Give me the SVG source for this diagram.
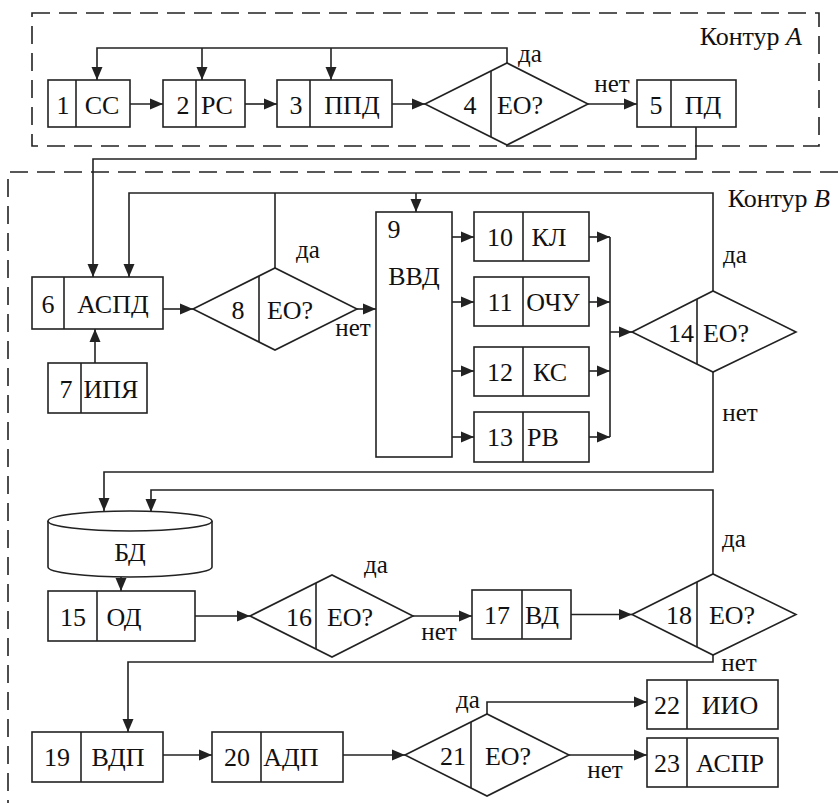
<svg xmlns="http://www.w3.org/2000/svg" width="838" height="803" viewBox="0 0 838 803" font-family="Liberation Serif, Times New Roman, serif">
<style>
.s{fill:#fff;stroke:#222;stroke-width:1.6}
.d{fill:none;stroke:#222;stroke-width:1.6}
.c{fill:none;stroke:#222;stroke-width:1.6}
.k{fill:none;stroke:#222;stroke-width:1.6;stroke-dasharray:18 9}
text{font-family:"Liberation Serif","Times New Roman",serif;font-size:26px;fill:#111;text-anchor:middle}
.l{font-size:25px}
</style>
<defs>
<marker id="a" markerUnits="userSpaceOnUse" markerWidth="14" markerHeight="12" refX="13" refY="6" orient="auto"><path d="M0,0.5 L13,6 L0,11.5 Z" fill="#222"/></marker>
</defs>
<rect class="k" x="32" y="13" width="787" height="133"/>
<path class="k" d="M838,172 H8 V803"/>
<text x="802" y="45" style="text-anchor:end">Контур <tspan font-style="italic">A</tspan></text>
<text x="830" y="207" style="text-anchor:end">Контур <tspan font-style="italic">B</tspan></text>

<g id="connectors">
<path class="c" d="M130,104 H163" marker-end="url(#a)"/>
<path class="c" d="M245,104 H277" marker-end="url(#a)"/>
<path class="c" d="M392,104 H425" marker-end="url(#a)"/>
<path class="c" d="M507,63 V48 H97 V80" marker-end="url(#a)"/>
<path class="c" d="M202,48 V80" marker-end="url(#a)"/>
<path class="c" d="M331,48 V80" marker-end="url(#a)"/>
<path class="c" d="M588,104 H637" marker-end="url(#a)"/>
<path class="c" d="M696,127 V159 H93 V277" marker-end="url(#a)"/>
<path class="c" d="M95,363 V329" marker-end="url(#a)"/>
<path class="c" d="M163,309 H193" marker-end="url(#a)"/>
<path class="c" d="M713,291 V193 H129 V277" marker-end="url(#a)"/>
<path class="c" d="M275,268 V193"/>
<path class="c" d="M416,193 V212" marker-end="url(#a)"/>
<path class="c" d="M357,309 H376" marker-end="url(#a)"/>
<path class="c" d="M452,237 H474" marker-end="url(#a)"/>
<path class="c" d="M452,302 H474" marker-end="url(#a)"/>
<path class="c" d="M452,371 H474" marker-end="url(#a)"/>
<path class="c" d="M452,437 H474" marker-end="url(#a)"/>
<path class="c" d="M589,237 H610" marker-end="url(#a)"/>
<path class="c" d="M589,302 H610" marker-end="url(#a)"/>
<path class="c" d="M589,371 H610" marker-end="url(#a)"/>
<path class="c" d="M589,437 H610" marker-end="url(#a)"/>
<path class="c" d="M610,237 V437"/>
<path class="c" d="M610,332 H632" marker-end="url(#a)"/>
<path class="c" d="M713,372 V472 H104 V511" marker-end="url(#a)"/>
<path class="c" d="M713,574 V490 H151 V512" marker-end="url(#a)"/>
<path class="c" d="M121,577 V591" marker-end="url(#a)"/>
<path class="c" d="M195,616 H250" marker-end="url(#a)"/>
<path class="c" d="M413,616 H472" marker-end="url(#a)"/>
<path class="c" d="M571,614.5 H632" marker-end="url(#a)"/>
<path class="c" d="M713,655 V662 H128 V732" marker-end="url(#a)"/>
<path class="c" d="M163,755 H212" marker-end="url(#a)"/>
<path class="c" d="M343,755 H405" marker-end="url(#a)"/>
<path class="c" d="M487,714 V702 H647" marker-end="url(#a)"/>
<path class="c" d="M569,755 H647" marker-end="url(#a)"/>
</g>

<g id="n1"><rect class="s" x="48" y="80" width="82" height="47"/><path class="d" d="M76,80 V127"/><text x="63" y="114">1</text><text x="102" y="114">CC</text></g>
<g id="n2"><rect class="s" x="163" y="80" width="82" height="47"/><path class="d" d="M196,80 V127"/><text x="183" y="114">2</text><text x="217" y="114">PC</text></g>
<g id="n3"><rect class="s" x="277" y="80" width="115" height="47"/><path class="d" d="M310,80 V127"/><text x="296" y="114">3</text><text x="352" y="114">ППД</text></g>
<g id="n4"><path class="s" d="M425,104 L507,63 L588,104 L507,145 Z"/><path class="d" d="M491,71 V137"/><text x="470" y="114">4</text><text x="520" y="114">EO?</text></g>
<g id="n5"><rect class="s" x="637" y="80" width="99" height="47"/><path class="d" d="M671,80 V127"/><text x="656" y="114">5</text><text x="703" y="114">ПД</text></g>
<text class="l" x="530" y="62">да</text>
<text class="l" x="612" y="92">нет</text>

<g id="n6"><rect class="s" x="32" y="277" width="131" height="52"/><path class="d" d="M64,277 V329"/><text x="48" y="313">6</text><text x="113" y="313">АСПД</text></g>
<g id="n7"><rect class="s" x="48" y="363" width="99" height="50"/><path class="d" d="M81,363 V413"/><text x="66" y="398">7</text><text x="111" y="398">ИПЯ</text></g>
<g id="n8"><path class="s" d="M193,309 L275,268 L357,309 L275,350 Z"/><path class="d" d="M259,276 V342"/><text x="238" y="319">8</text><text x="290" y="319">EO?</text></g>
<text class="l" x="308" y="258">да</text>
<text class="l" x="353" y="336">нет</text>
<g id="n9"><rect class="s" x="376" y="212" width="76" height="245"/><text x="394" y="238">9</text><text x="414" y="285">ВВД</text></g>
<g id="n10"><rect class="s" x="474" y="212" width="115" height="49"/><path class="d" d="M523,212 V261"/><text x="500" y="246">10</text><text x="549" y="246">КЛ</text></g>
<g id="n11"><rect class="s" x="474" y="277" width="115" height="49"/><path class="d" d="M523,277 V326"/><text x="500" y="311">11</text><text x="553" y="311">ОЧУ</text></g>
<g id="n12"><rect class="s" x="474" y="347" width="115" height="49"/><path class="d" d="M523,347 V396"/><text x="500" y="381">12</text><text x="550" y="381">КС</text></g>
<g id="n13"><rect class="s" x="474" y="412" width="115" height="50"/><path class="d" d="M523,412 V462"/><text x="500" y="446">13</text><text x="543" y="446">РВ</text></g>
<g id="n14"><path class="s" d="M632,332 L713,291 L796,332 L713,372 Z"/><path class="d" d="M697,299 V364"/><text x="681" y="342">14</text><text x="726" y="342">EO?</text></g>
<text class="l" x="735" y="263">да</text>
<text class="l" x="740" y="421">нет</text>

<g id="db"><path class="s" d="M48,521 V567 A82,10 0 0 0 212,567 V521"/><ellipse class="s" cx="130" cy="521" rx="82" ry="10"/><text x="130" y="561">БД</text></g>
<g id="n15"><rect class="s" x="48" y="591" width="147" height="50"/><path class="d" d="M97,591 V641"/><text x="73" y="626">15</text><text x="124" y="626">ОД</text></g>
<g id="n16"><path class="s" d="M250,616 L332,575 L413,616 L332,657 Z"/><path class="d" d="M316,583 V649"/><text x="299" y="626">16</text><text x="350" y="626">EO?</text></g>
<text class="l" x="376" y="573">да</text>
<text class="l" x="439" y="640">нет</text>
<g id="n17"><rect class="s" x="472" y="590" width="99" height="49"/><path class="d" d="M522,590 V639"/><text x="497" y="624">17</text><text x="542" y="624">ВД</text></g>
<g id="n18"><path class="s" d="M632,614.5 L713,574 L796,614.5 L713,655 Z"/><path class="d" d="M697,582 V647"/><text x="679" y="624">18</text><text x="732" y="624">EO?</text></g>
<text class="l" x="734" y="547">да</text>
<text class="l" x="739" y="671">нет</text>

<g id="n19"><rect class="s" x="32" y="732" width="131" height="50"/><path class="d" d="M81,732 V782"/><text x="57" y="766">19</text><text x="118" y="766">ВДП</text></g>
<g id="n20"><rect class="s" x="212" y="732" width="131" height="50"/><path class="d" d="M261,732 V782"/><text x="237" y="766">20</text><text x="291" y="766">АДП</text></g>
<g id="n21"><path class="s" d="M405,755 L487,714 L569,755 L487,796 Z"/><path class="d" d="M471,722 V788"/><text x="453" y="765">21</text><text x="508" y="765">EO?</text></g>
<text class="l" x="468" y="708">да</text>
<text class="l" x="605" y="778">нет</text>
<g id="n22"><rect class="s" x="647" y="680" width="131" height="49"/><path class="d" d="M687,680 V729"/><text x="667" y="714">22</text><text x="730" y="714">ИИО</text></g>
<g id="n23"><rect class="s" x="647" y="738" width="131" height="49"/><path class="d" d="M687,738 V787"/><text x="667" y="772">23</text><text x="730" y="772">АСПР</text></g>
</svg>
